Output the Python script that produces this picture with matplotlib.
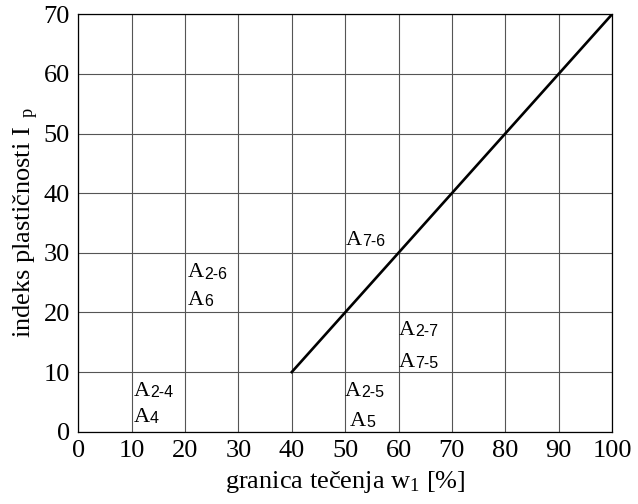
import matplotlib
matplotlib.use('Agg')
import matplotlib.pyplot as plt

# grid / axis values
x_ticks = [0, 10, 20, 30, 40, 50, 60, 70, 80, 90, 100]
y_ticks = [0, 10, 20, 30, 40, 50, 60, 70]

# boundary line A-line
line_x = [40, 100]
line_y = [10, 70]

# group labels (main letter + subscript) and where they sit
label_main = ['A', 'A', 'A', 'A', 'A', 'A', 'A', 'A', 'A']
label_sub = ['2-4', '4', '2-5', '5', '2-6', '6', '7-6', '2-7', '7-5']
label_x = [10.4, 10.4, 50.0, 50.9, 20.6, 20.5, 50.1, 60.1, 60.1]
label_y = [6.0, 1.7, 6.0, 1.0, 25.9, 21.3, 31.3, 16.2, 10.9]

plt.rcParams['font.family'] = ['Liberation Serif', 'DejaVu Serif']
plt.rcParams['mathtext.fontset'] = 'custom'
plt.rcParams['mathtext.rm'] = 'Liberation Serif'
plt.rcParams['mathtext.it'] = 'Liberation Serif:italic'

fig = plt.figure(figsize=(6.38, 5.04), dpi=100)
ax = fig.add_axes([0.1227, 0.1435, 0.9593 - 0.1227, 0.9716 - 0.1435])

ax.set_xlim(0, 100)
ax.set_ylim(0, 70)
ax.set_xticks(x_ticks)
ax.set_yticks(y_ticks)
ax.tick_params(length=0, labelsize=19, pad=6)
ax.grid(True, color='#555555', linewidth=0.8)
for s in ax.spines.values():
    s.set_linewidth(0.9)
    s.set_color('black')

ax.plot(line_x, line_y, color='black', linewidth=1.9)

for m, sub, x, y in zip(label_main, label_sub, label_x, label_y):
    t = ax.text(x, y, m, fontsize=16, va='baseline', ha='left')
    ax.annotate(sub, xy=(1, 0), xycoords=t, xytext=(0, 0.5),
                textcoords='offset points', fontsize=11.5,
                family='Liberation Sans', va='bottom', ha='left')

ax.set_xlabel(r'granica tečenja w$_\mathrm{1}$ [%]', fontsize=19, labelpad=5)
ax.set_ylabel(r'indeks plastičnosti I$_{\ \ \mathrm{p}}$', fontsize=19, labelpad=2)

fig.savefig('out.png', dpi=100)
